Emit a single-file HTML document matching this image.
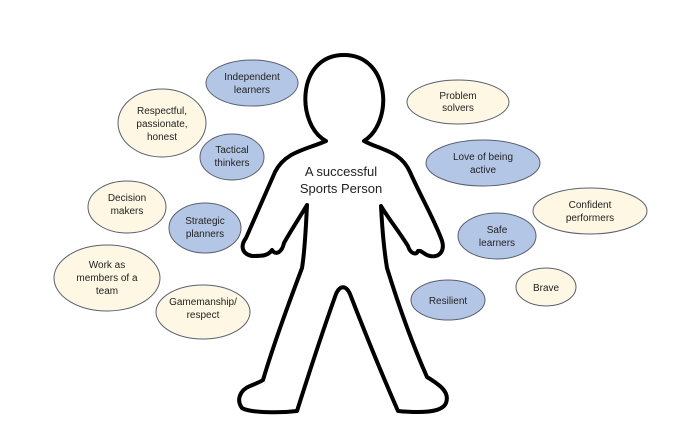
<!DOCTYPE html>
<html><head><meta charset="utf-8"><style>
html,body{margin:0;padding:0;background:#fff;}
svg{display:block;}
text{font-family:"Liberation Sans",sans-serif;font-size:10px;fill:#222;text-anchor:middle;}
.b{fill:#b4c6e6;stroke:#5a6070;stroke-width:1;}
.c{fill:#fdf7e3;stroke:#5a6070;stroke-width:1;}
</style></head><body>
<svg width="674" height="444" viewBox="0 0 674 444" xmlns="http://www.w3.org/2000/svg">
<path d="M326 141 C296 125 296 55 344 55 C390 55 394 122 364 141
C380 150 400 150 410 172 C420 195 432 215 441 238 C446 250 440 258 430 256
C424 255 422 250 418 251 C416 256 410 253 408 246 C398 230 388 218 381 206
C382 225 384 250 387 268 C400 310 415 350 427 377 C440 385 450 392 446 403
C442 413 420 413 398 411 C380 370 362 325 350 294 C346 285 340 285 336 294
C323 330 310 370 297 411 C280 413 250 413 242 408 C236 400 240 390 250 386
C255 384 260 382 263 380 C275 340 290 300 302 268 C305 250 306 225 307 205
C298 220 290 232 284 243 C282 252 276 256 272 250 C268 256 262 256 252 256
C242 254 240 246 246 238 C256 215 265 195 275 172 C285 152 305 150 326 141 Z"
fill="#fff" stroke="#000" stroke-width="4" stroke-linejoin="round"/>
<text x="341" y="176" style="font-size:13px">A successful</text>
<text x="341" y="193" style="font-size:13px">Sports Person</text>

<ellipse class="b" cx="252" cy="83" rx="46" ry="23"/>
<text x="252" y="80">Independent</text><text x="252" y="93">learners</text>
<ellipse class="c" cx="162" cy="123" rx="44" ry="34"/>
<text x="162" y="114">Respectful,</text><text x="162" y="127">passionate,</text><text x="162" y="140">honest</text>
<ellipse class="b" cx="232" cy="157" rx="32" ry="23"/>
<text x="232" y="153">Tactical</text><text x="232" y="166">thinkers</text>
<ellipse class="c" cx="127" cy="207" rx="39" ry="26"/>
<text x="127" y="201">Decision</text><text x="127" y="214">makers</text>
<ellipse class="b" cx="205" cy="228" rx="36" ry="25"/>
<text x="205" y="224">Strategic</text><text x="205" y="237">planners</text>
<ellipse class="c" cx="107" cy="278" rx="53" ry="33"/>
<text x="107" y="268">Work as</text><text x="107" y="281">members of a</text><text x="107" y="294">team</text>
<ellipse class="c" cx="203" cy="312" rx="47" ry="27"/>
<text x="203" y="305">Gamemanship/</text><text x="203" y="318">respect</text>

<ellipse class="c" cx="458" cy="102" rx="51" ry="22"/>
<text x="458" y="99">Problem</text><text x="458" y="111">solvers</text>
<ellipse class="b" cx="483" cy="163" rx="57" ry="23"/>
<text x="483" y="160">Love of being</text><text x="483" y="173">active</text>
<ellipse class="c" cx="590" cy="211" rx="57" ry="23"/>
<text x="590" y="208">Confident</text><text x="590" y="221">performers</text>
<ellipse class="b" cx="497" cy="236" rx="39" ry="23"/>
<text x="497" y="233">Safe</text><text x="497" y="246">learners</text>
<ellipse class="c" cx="546" cy="287" rx="30" ry="19"/>
<text x="546" y="291">Brave</text>
<ellipse class="b" cx="448" cy="300" rx="37" ry="20"/>
<text x="448" y="304">Resilient</text>
</svg>
</body></html>
